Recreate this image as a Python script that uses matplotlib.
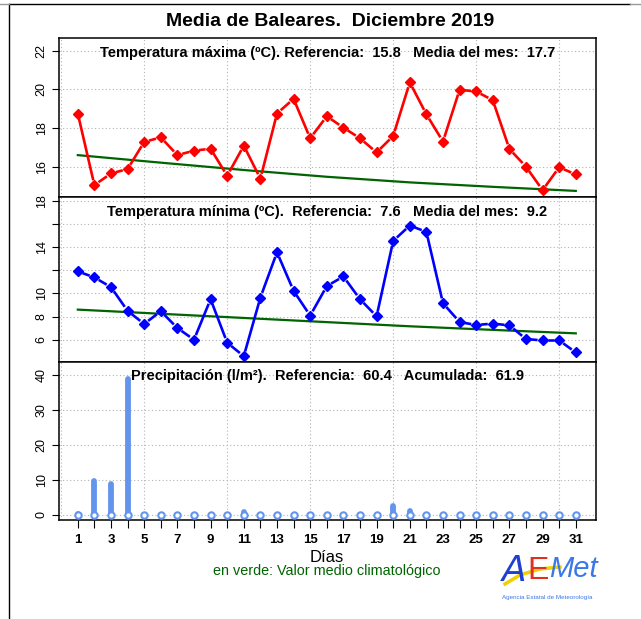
import numpy as np
import matplotlib
matplotlib.use("Agg")
import matplotlib.pyplot as plt
from matplotlib.lines import Line2D

plt.rcParams['font.family'] = ['Liberation Sans', 'DejaVu Sans']

# data
days = list(range(1, 32))
tmax = [18.75, 15.05, 15.65, 15.88, 17.28, 17.52, 16.60, 16.83, 16.93, 15.53,
        17.09, 15.38, 18.75, 19.51, 17.47, 18.61, 18.02, 17.47, 16.74, 17.59,
        20.36, 18.71, 17.30, 19.98, 19.89, 19.44, 16.92, 16.00, 14.79, 15.97, 15.60]
tmin = [11.90, 11.38, 10.54, 8.49, 7.36, 8.46, 7.01, 6.00, 9.50, 5.74,
        4.58, 9.64, 13.55, 10.22, 8.08, 10.63, 11.46, 9.50, 8.02, 14.53,
        15.86, 15.31, 9.15, 7.53, 7.27, 7.39, 7.24, 6.06, 5.94, 5.94, 4.90]
prec = [0.3, 9.6, 8.8, 38.8, 0, 0, 0, 0, 0, 0,
        0.8, 0, 0, 0, 0, 0, 0, 0, 0, 2.4,
        1.2, 0, 0, 0, 0, 0, 0, 0, 0, 0, 0]
clim_days = [1, 6, 11, 16, 21, 26, 31]
clim_tmax = [16.60, 16.21, 15.83, 15.48, 15.19, 14.96, 14.75]
clim_tmin = [8.60, 8.24, 7.88, 7.52, 7.16, 6.85, 6.55]

title = "Media de Baleares.  Diciembre 2019"
t1 = "Temperatura máxima (ºC). Referencia:  15.8   Media del mes:  17.7"
t2 = "Temperatura mínima (ºC).  Referencia:  7.6   Media del mes:  9.2"
t3 = "Precipitación (l/m²).  Referencia:  60.4   Acumulada:  61.9"

W, H = 641, 619
fig = plt.figure(figsize=(W / 100, H / 100), dpi=100)


def box(top, bottom, left=58.7, right=595.7):
    return [left / W, 1 - bottom / H, (right - left) / W, (bottom - top) / H]


ax1 = fig.add_axes(box(38.3, 196.7))
ax2 = fig.add_axes(box(196.7, 362.3))
ax3 = fig.add_axes(box(361.7, 520.3))

xlim = (-0.15, 32.2)
grid_kw = dict(color='#b4b4b4', lw=0.8, ls=(0, (1, 2.2)), zorder=0)


def setup(ax, ylim, yticks, ylabels):
    ax.set_xlim(*xlim)
    ax.set_ylim(*ylim)
    for v in range(0, 31, 5):
        ax.axvline(v, **grid_kw)
    for v in yticks:
        ax.axhline(v, **grid_kw)
    ax.set_yticks(yticks)
    ax.set_yticklabels(ylabels, rotation=90, va='center', fontsize=9)
    ax.tick_params(axis='y', length=5, width=0.8, pad=3)
    for s in ax.spines.values():
        s.set_linewidth(1.1)


def b_line(ax, x, y, color, gap=5.0):
    # R type="b": segments stop short of the points
    pts = ax.transData.transform(np.column_stack([x, y]))
    inv = ax.transData.inverted()
    for p0, p1 in zip(pts[:-1], pts[1:]):
        d = p1 - p0
        L = np.hypot(*d)
        if L <= 2 * gap:
            continue
        u = d / L
        seg = inv.transform([p0 + u * gap, p1 - u * gap])
        ax.plot(seg[:, 0], seg[:, 1], color=color, lw=1.9, solid_capstyle='butt', zorder=3)
    ax.plot(x, y, ls='none', marker='D', ms=5, color=color, mec=color, zorder=4)


setup(ax1, (14.45, 22.64), [16, 18, 20, 22], ['16', '18', '20', '22'])
ax1.plot(clim_days, clim_tmax, color='#006400', lw=1.6, zorder=2)
b_line(ax1, days, tmax, 'red')
ax1.text(0.5, 0.905, t1, transform=ax1.transAxes, ha='center', va='center',
         fontsize=10.5, fontweight='bold')

setup(ax2, (4.05, 18.35), [6, 8, 10, 12, 14, 16, 18], ['6', '8', '10', '', '14', '', '18'])
ax2.plot(clim_days, clim_tmin, color='#006400', lw=1.6, zorder=2)
b_line(ax2, days, tmin, 'blue')
ax2.text(0.5, 0.91, t2, transform=ax2.transAxes, ha='center', va='center',
         fontsize=10.5, fontweight='bold')

setup(ax3, (-1.6, 43.9), [0, 10, 20, 30, 40], ['0', '10', '20', '30', '40'])
ax3.vlines(days, 0, prec, color='#6495ED', lw=4.2, capstyle='round', zorder=2)
ax3.plot(days, [0] * len(days), ls='none', marker='o', ms=4.6, mfc='white',
         mec='#6495ED', mew=1.5, zorder=3)
ax3.text(0.5, 0.912, t3, transform=ax3.transAxes, ha='center', va='center',
         fontsize=10.5, fontweight='bold')

for ax in (ax1, ax2):
    ax.set_xticks([])
ax3.set_xticks(days)
ax3.set_xticklabels([str(d) if d % 2 == 1 else '' for d in days],
                    fontsize=9.5, fontweight='bold')
ax3.tick_params(axis='x', length=6, width=0.8, pad=4)

fig.text(330 / W, 1 - 21 / H, title, ha='center', va='center', fontsize=14, fontweight='bold')
fig.text(327 / W, 1 - 557 / H, "Días", ha='center', va='center', fontsize=12)
fig.text(327 / W, 1 - 571 / H, "en verde: Valor medio climatológico", ha='center', va='center',
         fontsize=10.4, color='#006400')

# logo
fig.text(502 / W, 1 - 571 / H, "A", ha='left', va='center', fontsize=26, color='#1f3fd0',
         fontstyle='italic', family='DejaVu Sans')
fig.text(527 / W, 1 - 571 / H, "E", ha='left', va='center', fontsize=23, color='#e03020')
fig.text(549 / W, 1 - 569 / H, "Met", ha='left', va='center', fontsize=21, color='#3a78e8',
         fontstyle='italic')
fig.lines.append(Line2D([505 / W, 520 / W, 540 / W, 560 / W], [1 - 584 / H, 1 - 575 / H, 1 - 569 / H, 1 - 567 / H],
                        transform=fig.transFigure, color='#f0d000', lw=2.5))
fig.text(547 / W, 1 - 598 / H, "Agencia Estatal de Meteorología", ha='center', va='center',
         fontsize=4.5, color='#3a78e8')

# frame of the original page
fig.lines.append(Line2D([8.5 / W, 8.5 / W], [0, 1 - 3.5 / H], transform=fig.transFigure, color='black', lw=1))
fig.lines.append(Line2D([8.5 / W, 630 / W], [1 - 3.5 / H, 1 - 3.5 / H], transform=fig.transFigure, color='black', lw=1))
fig.lines.append(Line2D([0, 8.5 / W], [1 - 4 / H, 1 - 4 / H], transform=fig.transFigure, color='#999999', lw=1))
fig.lines.append(Line2D([630 / W, 1], [1 - 4 / H, 1 - 4 / H], transform=fig.transFigure, color='#999999', lw=1))

fig.savefig("out.png", dpi=100)
